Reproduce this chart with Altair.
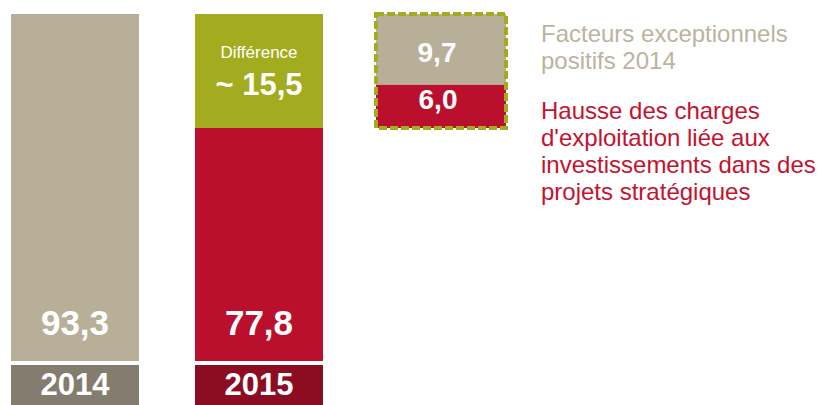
import altair as alt
import pandas as pd

FONT = "Liberation Sans"

# ---- data ----
years = ["2014", "2015"]
seg_year = ["2014", "2015", "2015"]
seg_key = ["base2014", "base2015", "diff"]
seg_value = [93.3, 77.8, 15.5]
diff_title = "Différence"

box_col = "écart"
box_keys = ["hausse", "facteurs"]
box_values = [6.0, 9.7]
box_texts = [
    "Hausse des charges\nd'exploitation liée aux\ninvestissements dans des\nprojets stratégiques",
    "Facteurs exceptionnels\npositifs 2014",
]

# ---- colours ----
TAN = "#B8AF98"
RED = "#BA102D"
GREEN = "#A3AC1F"
YEAR_COLORS = ["#857C70", "#8C0C22"]
GREY_TXT = "#BCB3A0"
RED_TXT = "#C4122F"


def fr(v):
    return f"{v:.1f}".replace(".", ",")


# main bars table
rows = []
cum = {}
for y, k, v in zip(seg_year, seg_key, seg_value):
    s = cum.get(y, 0.0)
    rows.append({"year": y, "key": k, "value": v, "start": s, "end": s + v,
                 "label": fr(v), "tlabel": "~ " + fr(v), "title": diff_title})
    cum[y] = s + v
main_df = pd.DataFrame(rows)

# box table
brow = []
s = 0.0
for k, v, t in zip(box_keys, box_values, box_texts):
    brow.append({"col": box_col, "key": k, "value": v, "start": s, "end": s + v,
                 "mid": s + v / 2, "label": fr(v), "text": t})
    s += v
box_df = pd.DataFrame(brow)
box_total = s

# ---- scales ----
X_MAIN = alt.Scale(domain=years, range=[3, 315], paddingInner=0.3043, paddingOuter=0)
Y_MAIN = alt.Scale(domain=[0, seg_value[1], seg_value[0]], range=[353, 120, 6],
                   nice=False, zero=False)
X_BOX = alt.Scale(domain=[box_col], range=[368, 498], paddingInner=0, paddingOuter=0)
Y_BOX = alt.Scale(domain=[0, box_total], range=[120, 6], nice=False, zero=False)

xm = alt.X("year:N", scale=X_MAIN, axis=None)
xb = alt.X("col:N", scale=X_BOX, axis=None)

base_main = alt.Chart(main_df)
main_rect = base_main.mark_rect().encode(
    x=xm,
    y=alt.Y("start:Q", scale=Y_MAIN, axis=None),
    y2="end:Q",
    color=alt.Color("key:N", scale=alt.Scale(domain=seg_key, range=[TAN, RED, GREEN]), legend=None),
)
main_vals = base_main.transform_filter(alt.datum.key != "diff").mark_text(
    baseline="alphabetic", dy=-26, fontSize=35, fontWeight="bold", color="white", font=FONT
).encode(x=xm, y=alt.Y("start:Q", scale=Y_MAIN, axis=None), text="label:N")
diff_title_t = base_main.transform_filter(alt.datum.key == "diff").mark_text(
    baseline="alphabetic", dy=44, fontSize=17, color="white", font=FONT
).encode(x=xm, y=alt.Y("end:Q", scale=Y_MAIN, axis=None), text="title:N")
diff_val_t = base_main.transform_filter(alt.datum.key == "diff").mark_text(
    baseline="alphabetic", dy=81, fontSize=31, fontWeight="bold", color="white", font=FONT
).encode(x=xm, y=alt.Y("end:Q", scale=Y_MAIN, axis=None), text="tlabel:N")

main_layer = alt.layer(main_rect, main_vals, diff_title_t, diff_val_t)

base_box = alt.Chart(box_df)
box_rect = base_box.mark_rect().encode(
    x=xb,
    y=alt.Y("start:Q", scale=Y_BOX, axis=None),
    y2="end:Q",
    color=alt.Color("key:N", scale=alt.Scale(domain=box_keys, range=[RED, TAN]), legend=None),
)
box_border = base_box.mark_rect(
    fillOpacity=0, stroke=GREEN, strokeWidth=4, strokeDash=[8, 3]
).encode(
    x=xb,
    y=alt.Y("min(start):Q", scale=Y_BOX, axis=None),
    y2=alt.Y2("max(end):Q"),
)
box_val_f = base_box.transform_filter(alt.datum.key == "facteurs").mark_text(
    baseline="middle", dx=-4, dy=5, fontSize=28, fontWeight="bold", color="white", font=FONT
).encode(x=xb, y=alt.Y("mid:Q", scale=Y_BOX, axis=None), text="label:N")
box_val_h = base_box.transform_filter(alt.datum.key == "hausse").mark_text(
    baseline="middle", dx=-3, dy=-5, fontSize=28, fontWeight="bold", color="white", font=FONT
).encode(x=xb, y=alt.Y("mid:Q", scale=Y_BOX, axis=None), text="label:N")
leg_f = base_box.transform_filter(alt.datum.key == "facteurs").mark_text(
    align="left", baseline="alphabetic", dx=100, dy=28, fontSize=24, lineHeight=27,
    lineBreak="\n", color=GREY_TXT, font=FONT
).encode(x=xb, y=alt.Y("end:Q", scale=Y_BOX, axis=None), text="text:N")
leg_h = base_box.transform_filter(alt.datum.key == "hausse").mark_text(
    align="left", baseline="alphabetic", dx=100, dy=35, fontSize=24, lineHeight=27,
    lineBreak="\n", color=RED_TXT, font=FONT
).encode(x=xb, y=alt.Y("end:Q", scale=Y_BOX, axis=None), text="text:N")

box_layer = alt.layer(box_rect, box_border, box_val_f, box_val_h, leg_f, leg_h)

top = alt.layer(main_layer, box_layer).resolve_scale(
    x="independent", y="independent", color="independent"
).properties(width=800, height=353)

year_df = pd.DataFrame({"year": years})
year_rect = alt.Chart(year_df).mark_rect().encode(
    x=xm,
    color=alt.Color("year:N", scale=alt.Scale(domain=years, range=YEAR_COLORS), legend=None),
)
year_txt = alt.Chart(year_df).mark_text(
    baseline="middle", dy=1, fontSize=31, fontWeight="bold", color="white", font=FONT
).encode(x=xm, text="year:N")
bottom = alt.layer(year_rect, year_txt).properties(width=800, height=40)

chart = alt.vconcat(top, bottom, spacing=4).resolve_scale(
    x="independent", color="independent"
).properties(padding=0).configure_view(stroke=None)

chart.save("out.html", embed_options={"renderer": "svg", "actions": False})
